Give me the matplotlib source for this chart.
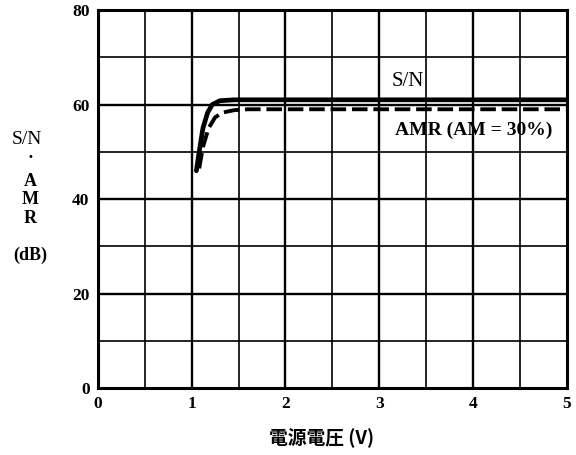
import matplotlib
matplotlib.use("Agg")
import matplotlib.pyplot as plt

sn_x = [1.05, 1.08, 1.12, 1.17, 1.22, 1.3, 1.45, 2.0, 3.0, 4.0, 5.0]
sn_y = [46.0, 50.0, 55.0, 58.3, 60.0, 60.8, 61.0, 61.0, 61.0, 61.0, 61.0]
amr_x = [1.08, 1.12, 1.18, 1.25, 1.33, 1.45, 1.6, 2.0, 3.0, 4.0, 5.0]
amr_y = [46.5, 51.0, 55.0, 57.3, 58.3, 58.8, 59.0, 59.0, 59.0, 59.0, 59.0]
xticks = [0, 1, 2, 3, 4, 5]
yticks = [0, 20, 40, 60, 80]

W, H = 576, 455
fig = plt.figure(figsize=(5.76, 4.55), dpi=100)
ax = fig.add_axes([0.170, 0.147, 0.814, 0.831])
ax.set_xlim(0, 5)
ax.set_ylim(0, 80)

for gx in [0.5 * i for i in range(1, 10)]:
    ax.axvline(gx, color="black", lw=1.7 if gx == int(gx) else 1.2, zorder=1)
for gy in range(10, 80, 10):
    ax.axhline(gy, color="black", lw=1.7 if gy % 20 == 0 else 1.2, zorder=1)

ax.plot(sn_x, sn_y, color="black", lw=3.4, solid_capstyle="round", zorder=3)
ax.plot(amr_x, amr_y, color="black", lw=2.8, ls=(0, (4, 1.5)), zorder=3)

for s in ax.spines.values():
    s.set_linewidth(2.2)
ax.tick_params(length=0, pad=6)
ax.set_xticks(xticks)
ax.set_yticks(yticks)
tf = dict(family="Liberation Serif", weight="bold", size=12.5)
ax.set_xticklabels([str(v) for v in xticks], **tf)
ax.set_yticklabels([str(v) for v in yticks], **tf)

ax.text(3.13, 64.8, "S/N", family="Liberation Serif", size=15, ha="left", va="center")
ax.text(3.17, 54.6, "AMR (AM = 30%)", family="Liberation Serif", weight="bold", size=14,
        ha="left", va="center")

fig.text(27 / W, 1 - 140 / H, "S/N", family="Liberation Serif", size=14, ha="center", va="center")
lf = dict(family="Liberation Serif", weight="bold", size=13, ha="center", va="center")
for txt, py in [("·", 158), ("A", 182), ("M", 200), ("R", 218), ("(dB)", 255)]:
    fig.text(30 / W, 1 - py / H, txt, **lf)
fig.text(322 / W, 1 - 438 / H, "電源電圧 (V)", family=["Noto Sans CJK JP", "DejaVu Sans"],
         weight="bold", size=13.5, ha="center", va="center")

fig.savefig("out.png", dpi=100, facecolor="white")
